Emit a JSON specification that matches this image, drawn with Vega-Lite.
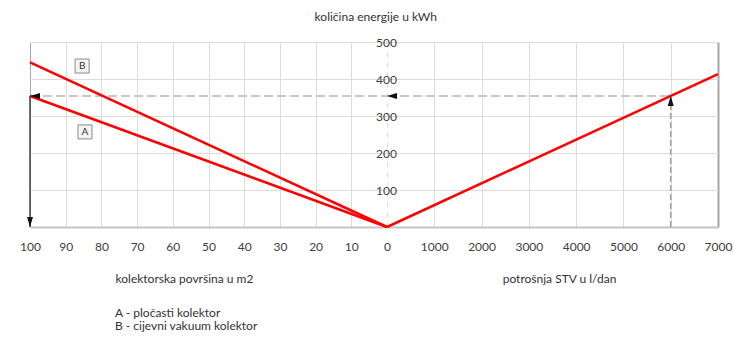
{
  "$schema": "https://vega.github.io/schema/vega-lite/v6.json",
  "background": "white",
  "padding": {"left": 19, "top": 11, "right": 4, "bottom": 4},
  "bounds": "flush",
  "spacing": 0,
  "title": {"text": "količina energije u kWh", "anchor": "middle", "font": "Lato", "fontSize": 12, "fontWeight": "normal", "color": "#333333", "offset": 12},
  "config": {
    "view": {"stroke": null},
    "axis": {"labelFont": "Lato", "labelFontSize": 12, "labelColor": "#404040", "titleFont": "Lato", "titleFontSize": 12, "titleFontWeight": "normal", "titleColor": "#333333", "gridColor": "#dcdcdc", "gridWidth": 1, "ticks": false, "tickSize": 0, "labelOverlap": false, "labelFlush": false, "labelBound": false, "format": "d"}
  },
  "datasets": {
    "lines_left": [
      {"collector": "A", "area": 100, "energy": 354},
      {"collector": "A", "area": 0, "energy": 0},
      {"collector": "B", "area": 100, "energy": 445},
      {"collector": "B", "area": 0, "energy": 0}
    ],
    "line_right": [
      {"consumption": 0, "energy": 0},
      {"consumption": 7000, "energy": 413}
    ],
    "guide_left": [{"area": 100, "area_end": 0, "energy": 354}],
    "drop_left": [{"area": 100, "energy": 354, "energy_end": 0}],
    "guide_right": [{"consumption": 0, "consumption_end": 6000, "energy": 354}],
    "rise_right": [{"consumption": 6000, "energy": 0, "energy_end": 354}],
    "arrows_left": [
      {"area": 100, "energy": 354, "dir": "left"},
      {"area": 100, "energy": 0, "dir": "down"}
    ],
    "arrows_right": [
      {"consumption": 0, "energy": 354, "dir": "left"},
      {"consumption": 6000, "energy": 354, "dir": "up"}
    ],
    "tags": [
      {"label": "B", "area": 85.4, "energy": 435},
      {"label": "A", "area": 84.6, "energy": 257}
    ],
    "notes": [
      {"note": "A - pločasti kolektor", "area": 76.2, "energy": -232},
      {"note": "B - cijevni vakuum kolektor", "area": 76.2, "energy": -267}
    ]
  },
  "hconcat": [
    {
      "width": 357,
      "height": 185,
      "encoding": {
        "x": {"field": "area", "type": "quantitative", "scale": {"domain": [0, 100], "reverse": true, "nice": false},
          "axis": {
            "values": [100, 90, 80, 70, 60, 50, 40, 30, 20, 10],
            "labelOverlap": false,
            "grid": true,
            "gridColor": {"condition": {"test": "datum.value === 100", "value": "#a6a6a6"}, "value": "#dcdcdc"},
            "domainColor": "#c4c4c4",
            "domainWidth": 2,
            "labelPadding": 14,
            "title": "kolektorska površina u m2",
            "titleX": 85,
            "titleY": 46,
            "titleAlign": "left",
            "titleBaseline": "top"
          }},
        "y": {"field": "energy", "type": "quantitative", "scale": {"domain": [0, 500], "nice": false},
          "axis": {"values": [100, 200, 300, 400, 500], "grid": true, "labels": false, "domain": false, "title": null}}
      },
      "layer": [
        {
          "data": {"name": "guide_left"},
          "mark": {"type": "rule", "color": "#c8c8c8", "strokeWidth": 2, "strokeDash": [9, 4]},
          "encoding": {"x2": {"field": "area_end"}}
        },
        {
          "data": {"name": "drop_left"},
          "mark": {"type": "rule", "color": "#404040", "strokeWidth": 1.5},
          "encoding": {"y2": {"field": "energy_end"}}
        },
        {
          "data": {"name": "lines_left"},
          "mark": {"type": "line", "color": "#ff0000", "strokeWidth": 2.5},
          "encoding": {"detail": {"field": "collector"}}
        },
        {
          "data": {"name": "arrows_left"},
          "mark": {"type": "point", "filled": true, "color": "#111111", "size": 100, "opacity": 1},
          "encoding": {
            "shape": {"field": "dir", "type": "nominal", "legend": null,
              "scale": {"domain": ["left", "down", "up"], "range": ["M0,0L2,-0.6L2,0.6Z", "M0,0L-0.6,-2L0.6,-2Z", "M0,0L-0.6,2L0.6,2Z"]}}
          }
        },
        {
          "data": {"name": "tags"},
          "mark": {"type": "point", "shape": "square", "filled": true, "fill": "#f4f4f4", "stroke": "#8a8a8a", "strokeWidth": 1, "size": 196, "opacity": 1},
          "encoding": {}
        },
        {
          "data": {"name": "tags"},
          "mark": {"type": "text", "font": "Lato", "fontSize": 10, "color": "#333333", "align": "center", "baseline": "middle"},
          "encoding": {"text": {"field": "label"}}
        },
        {
          "data": {"name": "notes"},
          "mark": {"type": "text", "font": "Lato", "fontSize": 12, "color": "#333333", "align": "left", "baseline": "middle"},
          "encoding": {"text": {"field": "note"}}
        }
      ]
    },
    {
      "width": 331,
      "height": 185,
      "encoding": {
        "x": {"field": "consumption", "type": "quantitative", "scale": {"domain": [0, 7000], "nice": false},
          "axis": {
            "values": [0, 1000, 2000, 3000, 4000, 5000, 6000, 7000],
            "grid": true,
            "gridColor": {"condition": {"test": "datum.value === 7000", "value": "#a6a6a6"}, "value": "#dcdcdc"},
            "gridWidth": {"condition": {"test": "datum.value === 7000", "value": 2}, "value": 1},
            "gridDash": {"condition": {"test": "datum.value === 0", "value": [5, 5]}, "value": []},
            "domainColor": "#c4c4c4",
            "domainWidth": 2,
            "labelPadding": 14,
            "title": "potrošnja STV u l/dan",
            "titleX": 172,
            "titleY": 46,
            "titleAlign": "center",
            "titleBaseline": "top"
          }},
        "y": {"field": "energy", "type": "quantitative", "scale": {"domain": [0, 500], "nice": false},
          "axis": {"values": [100, 200, 300, 400, 500], "grid": true, "domain": false, "title": null, "orient": "left", "labelAlign": "center", "labelBaseline": "middle", "labelPadding": 1}}
      },
      "layer": [
        {
          "data": {"name": "guide_right"},
          "mark": {"type": "rule", "color": "#c8c8c8", "strokeWidth": 2, "strokeDash": [9, 4]},
          "encoding": {"x2": {"field": "consumption_end"}}
        },
        {
          "data": {"name": "rise_right"},
          "mark": {"type": "rule", "color": "#a0a0a0", "strokeWidth": 1.5, "strokeDash": [6, 3]},
          "encoding": {"y2": {"field": "energy_end"}}
        },
        {
          "data": {"name": "line_right"},
          "mark": {"type": "line", "color": "#ff0000", "strokeWidth": 2.5},
          "encoding": {}
        },
        {
          "data": {"name": "arrows_right"},
          "mark": {"type": "point", "filled": true, "color": "#111111", "size": 100, "opacity": 1},
          "encoding": {
            "shape": {"field": "dir", "type": "nominal", "legend": null,
              "scale": {"domain": ["left", "down", "up"], "range": ["M0,0L2,-0.6L2,0.6Z", "M0,0L-0.6,-2L0.6,-2Z", "M0,0L-0.6,2L0.6,2Z"]}}
          }
        }
      ]
    }
  ]
}
